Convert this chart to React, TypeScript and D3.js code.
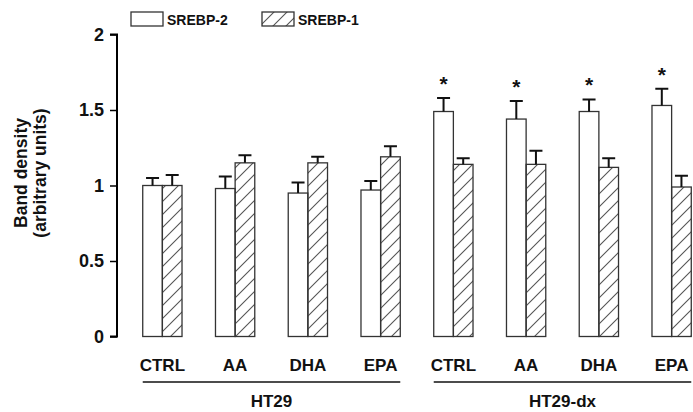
import * as d3 from "d3";
import React, { useEffect, useRef } from "react";

const treatments = ["CTRL", "AA", "DHA", "EPA"];
const cellLines = ["HT29", "HT29-dx"];
const seriesNames = ["SREBP-2", "SREBP-1"];

// one value per bar pair, HT29 first then HT29-dx
const srebp2 = [1.0, 0.98, 0.95, 0.97, 1.49, 1.44, 1.49, 1.53];
const srebp2Err = [0.05, 0.08, 0.07, 0.06, 0.09, 0.12, 0.08, 0.11];
const srebp1 = [1.0, 1.15, 1.15, 1.19, 1.14, 1.14, 1.12, 0.99];
const srebp1Err = [0.07, 0.05, 0.04, 0.07, 0.04, 0.09, 0.06, 0.075];
const significant = [false, false, false, false, true, true, true, true];
const yTicks = [0, 0.5, 1, 1.5, 2];

const W = 693;
const H = 412;

const App: React.FC = () => {
  const ref = useRef<SVGSVGElement>(null);

  useEffect(() => {
    const svg = d3.select(ref.current).html("");
    const font = "'Liberation Sans', Arial, sans-serif";

    // hatch pattern
    svg
      .append("defs")
      .append("pattern")
      .attr("id", "hatch")
      .attr("patternUnits", "userSpaceOnUse")
      .attr("width", 13)
      .attr("height", 13)
      .append("path")
      .attr("d", "M0,13 L13,0 M-3,3 L3,-3 M10,16 L16,10")
      .attr("stroke", "#555")
      .attr("stroke-width", 1.1);

    const keys = d3.range(cellLines.length * treatments.length).map(String);
    const labels = cellLines.flatMap(() => treatments);

    const x = d3
      .scaleBand()
      .domain(keys)
      .range([126, 708])
      .paddingInner(0.46)
      .paddingOuter(0.23);
    const sub = d3.scaleBand().domain(seriesNames).range([0, x.bandwidth()]);
    const y = d3.scaleLinear().domain([0, 2]).range([336.5, 34.5]);

    // y axis
    const yAxis = svg
      .append("g")
      .attr("transform", "translate(117,0)")
      .call(d3.axisLeft(y).tickValues(yTicks).tickSize(7).tickPadding(6).tickFormat(d3.format("")));
    yAxis.select(".domain").attr("stroke-width", 2).attr("d", `M-7,${y(2)}H0V${y(0)}H-7`);
    yAxis.selectAll(".tick line").attr("stroke-width", 1.5);
    yAxis
      .selectAll(".tick text")
      .attr("font-family", font)
      .attr("font-weight", "bold")
      .attr("font-size", 18)
      .attr("fill", "#111");

    // y title
    const title = svg
      .append("text")
      .attr("transform", "translate(0,173) rotate(-90)")
      .attr("text-anchor", "middle")
      .attr("font-family", font)
      .attr("font-weight", "bold")
      .attr("font-size", 17.5)
      .attr("fill", "#111");
    title.append("tspan").attr("x", 0).attr("y", 27).text("Band density");
    title.append("tspan").attr("x", 0).attr("y", 46).text("(arbitrary units)");

    const series = [
      { name: seriesNames[0], values: srebp2, err: srebp2Err, fill: "#fff" },
      { name: seriesNames[1], values: srebp1, err: srebp1Err, fill: "url(#hatch)" },
    ];

    series.forEach((s) => {
      const g = svg.append("g");
      keys.forEach((k, i) => {
        const bx = x(k)! + sub(s.name)!;
        const bw = sub.bandwidth();
        g.append("rect")
          .attr("x", bx)
          .attr("y", y(s.values[i]))
          .attr("width", bw)
          .attr("height", y(0) - y(s.values[i]))
          .attr("fill", s.fill)
          .attr("stroke", "#333")
          .attr("stroke-width", 1.3);
        const cx = bx + bw / 2;
        const top = y(s.values[i] + s.err[i]);
        g.append("path")
          .attr("d", `M${cx},${y(s.values[i])}V${top}M${cx - 6.5},${top}H${cx + 6.5}`)
          .attr("stroke", "#111")
          .attr("stroke-width", 2)
          .attr("fill", "none");
        if (s.name === seriesNames[0] && significant[i]) {
          g.append("text")
            .attr("x", cx)
            .attr("y", top - 7)
            .attr("text-anchor", "middle")
            .attr("font-family", font)
            .attr("font-weight", "bold")
            .attr("font-size", 21)
            .attr("fill", "#111")
            .text("*");
        }
      });
    });

    // category labels
    svg
      .append("g")
      .selectAll("text")
      .data(keys)
      .join("text")
      .attr("x", (k) => x(k)! + x.bandwidth() / 2)
      .attr("y", 371)
      .attr("text-anchor", "middle")
      .attr("font-family", font)
      .attr("font-weight", "bold")
      .attr("font-size", 17)
      .attr("fill", "#111")
      .text((k, i) => labels[i]);

    // cell line brackets
    cellLines.forEach((c, j) => {
      const first = keys[j * treatments.length];
      const last = keys[(j + 1) * treatments.length - 1];
      const x0 = x(first)!;
      const x1 = x(last)! + x.bandwidth();
      svg
        .append("line")
        .attr("x1", x0)
        .attr("x2", x1)
        .attr("y1", 382)
        .attr("y2", 382)
        .attr("stroke", "#111")
        .attr("stroke-width", 1.5);
      svg
        .append("text")
        .attr("x", (x0 + x1) / 2)
        .attr("y", 407)
        .attr("text-anchor", "middle")
        .attr("font-family", font)
        .attr("font-weight", "bold")
        .attr("font-size", 17)
        .attr("fill", "#111")
        .text(c);
    });

    // legend
    const legendX = [131, 262];
    series.forEach((s, i) => {
      svg
        .append("rect")
        .attr("x", legendX[i])
        .attr("y", 12)
        .attr("width", 32)
        .attr("height", 14)
        .attr("fill", s.fill)
        .attr("stroke", "#333")
        .attr("stroke-width", 1.3);
      svg
        .append("text")
        .attr("x", legendX[i] + 36)
        .attr("y", 25)
        .attr("font-family", font)
        .attr("font-weight", "bold")
        .attr("font-size", 14)
        .attr("fill", "#111")
        .text(s.name);
    });
  }, []);

  return <svg ref={ref} width={W} height={H} style={{ position: "absolute", left: 0, top: 0, background: "#fff" }}></svg>;
};

export default App;
